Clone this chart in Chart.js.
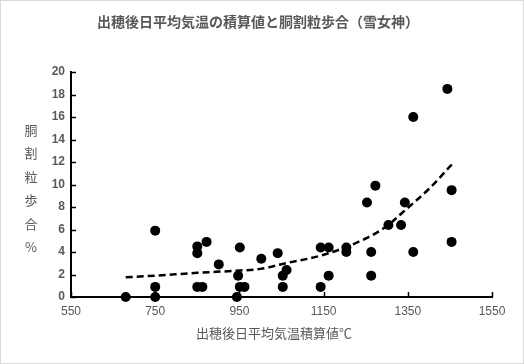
<!DOCTYPE html>
<html>
<head>
<meta charset="utf-8">
<script src="https://cdn.jsdelivr.net/npm/chart.js@4"></script>
<style>
  body { margin: 0; background: #fff; }
  #wrap { width: 524px; height: 364px; position: relative; }
</style>
</head>
<body>
<div id="wrap"><canvas id="scatterChart"></canvas></div>
<script>
// 出穂後日平均気温積算値(℃) と 胴割粒歩合(%)
const heatSum = [680, 750, 750, 750, 850, 862, 850, 850, 872, 901, 944, 947, 951, 951, 962, 1002, 1041, 1053, 1053, 1062, 1143, 1143, 1162, 1162, 1204, 1204, 1253, 1273, 1263, 1263, 1304, 1334, 1343, 1363, 1363, 1444, 1454, 1454];
const crackRate = [0, 0, 0.9, 5.9, 0.9, 0.9, 3.9, 4.5, 4.9, 2.9, 0, 1.9, 4.4, 0.9, 0.9, 3.4, 3.9, 0.9, 1.9, 2.4, 0.9, 4.4, 4.4, 1.9, 4.4, 4, 8.4, 9.9, 4, 1.9, 6.4, 6.4, 8.4, 16, 4, 18.5, 9.5, 4.9];
// 近似曲線 (図から読んだ値)
const trendX = [680, 750, 850, 950, 1000, 1060, 1150, 1250, 1300, 1340, 1400, 1455];
const trendY = [1.75, 1.9, 2.15, 2.35, 2.5, 3.0, 3.75, 5.2, 6.3, 7.6, 9.6, 11.8];
const xTicks = [550, 750, 950, 1150, 1350, 1550];
const yTicks = [0, 2, 4, 6, 8, 10, 12, 14, 16, 18, 20];

const titleText = '出穂後日平均気温の積算値と胴割粒歩合（雪女神）';
const xTitle = '出穂後日平均気温積算値℃';
const yTitle = ['胴', '割', '粒', '歩', '合', '%'];

const jpFont = '"Noto Sans CJK JP", "Noto Sans", sans-serif';
const numFont = '"Liberation Sans", Arial, sans-serif';
const gray = '#595959';

const points = heatSum.map((v, i) => ({ x: v, y: crackRate[i] }));
const trend = trendX.map((v, i) => ({ x: v, y: trendY[i] }));

// 枠線・内向き目盛り・タイトル類
const decor = {
    id: 'decor',
    beforeDraw(chart) {
        const c = chart.ctx;
        c.save();
        c.fillStyle = '#fff';
        c.fillRect(0, 0, chart.width, chart.height);
        c.strokeStyle = '#d9d9d9';
        c.lineWidth = 1;
        c.strokeRect(0.5, 0.5, chart.width - 1, chart.height - 1);
        c.restore();
    },
    afterDraw(chart) {
        const c = chart.ctx;
        const xs = chart.scales.x, ys = chart.scales.y;
        const a = chart.chartArea;
        c.save();
        c.strokeStyle = '#000';
        c.lineWidth = 1.5;
        xTicks.forEach(t => {
            const px = Math.round(xs.getPixelForValue(t)) + 0.5;
            c.beginPath(); c.moveTo(px, a.bottom); c.lineTo(px, a.bottom - 5); c.stroke();
        });
        yTicks.forEach(t => {
            const py = Math.round(ys.getPixelForValue(t)) + 0.5;
            c.beginPath(); c.moveTo(a.left, py); c.lineTo(a.left + 5, py); c.stroke();
        });
        c.fillStyle = gray;
        c.textAlign = 'center';
        c.textBaseline = 'middle';
        c.font = 'bold 14px ' + jpFont;
        c.fillText(titleText, 258, 22);
        c.font = '13px ' + jpFont;
        c.fillText(xTitle, 274, 333);
        yTitle.forEach((ch, i) => c.fillText(ch, 31, 130 + i * 23.5));
        c.restore();
    }
};

new Chart(document.getElementById('scatterChart'), {
    type: 'scatter',
    data: {
        datasets: [{
            type: 'line',
            data: trend,
            borderColor: '#000',
            borderWidth: 2.5,
            borderDash: [7, 4],
            pointRadius: 0,
            cubicInterpolationMode: 'monotone',
            fill: false,
            clip: false
        }, {
            data: points,
            backgroundColor: '#000',
            borderColor: '#000',
            borderWidth: 0,
            pointRadius: 5,
            clip: false
        }]
    },
    options: {
        responsive: true,
        maintainAspectRatio: false,
        animation: false,
        events: [],
        layout: { padding: { left: 0, right: 32, top: 72, bottom: 0 } },
        plugins: {
            legend: { display: false },
            tooltip: { enabled: false },
            title: { display: false }
        },
        scales: {
            x: {
                type: 'linear',
                min: 550,
                max: 1550,
                afterBuildTicks: s => { s.ticks = xTicks.map(v => ({ value: v })); },
                afterFit: s => { s.height = 67; },
                grid: { drawOnChartArea: false, drawTicks: false },
                border: { color: '#000', width: 2 },
                ticks: { color: gray, padding: 7, font: { family: numFont, size: 12 }, callback: v => String(v) }
            },
            y: {
                min: 0,
                max: 20,
                afterBuildTicks: s => { s.ticks = yTicks.map(v => ({ value: v })); },
                afterFit: s => { s.width = 71; },
                grid: { drawOnChartArea: false, drawTicks: false },
                border: { color: '#000', width: 2 },
                ticks: { color: gray, padding: 6, font: { family: numFont, size: 12, weight: 'bold' }, callback: v => String(v) }
            }
        }
    },
    plugins: [decor]
});
</script>
</body>
</html>
